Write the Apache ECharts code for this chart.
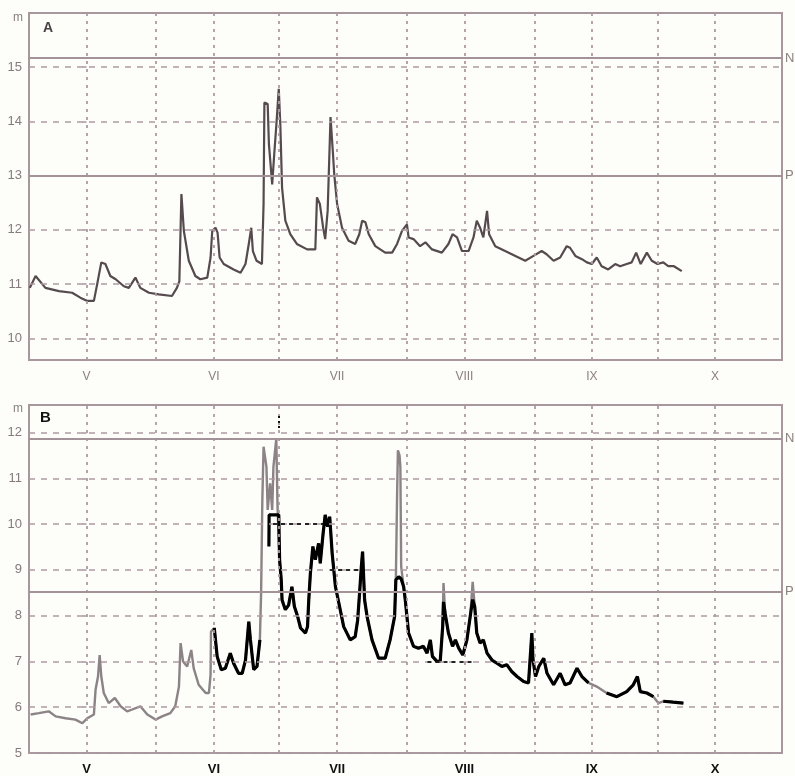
<!DOCTYPE html>
<html>
<head>
<meta charset="utf-8">
<script src="https://cdn.jsdelivr.net/npm/echarts@6/dist/echarts.min.js"></script>
<style>
  html, body { margin: 0; padding: 0; background: #fdfdfa; }
  #chart { width: 795px; height: 776px; }
</style>
</head>
<body>
<div id="chart"></div>
<script>
// Day numbers are counted from 1 May (1 May = 0).
const monthStarts = [0, 31, 61, 92, 123, 153];
const monthNames = ['V', 'VI', 'VII', 'VIII', 'IX', 'X'];
const midMonthDays = [16.8, 46.9, 78, 109, 139];

const ticksA = [10, 11, 12, 13, 14, 15];
const ticksB = [5, 6, 7, 8, 9, 10, 11, 12];
const thresholdNames = ['N', 'P'];
const thresholdsA = [15.17, 13.0];
const thresholdsB = [11.87, 8.53];

// Panel A: water level, m
const daysA = [
  -13.8, -12.4, -10.0, -6.7, -3.5, -1.5, 0.2, 1.8, 2.6, 3.6, 4.6, 5.8, 7.1, 9.1, 10.3, 11.9, 13.1,
  15.2, 17.6, 20.8, 22.0, 22.6, 23.1, 23.7, 24.9, 26.5, 27.7, 29.4, 30.2, 30.6, 31.4, 31.9, 32.4,
  33.4, 35.8, 37.5, 38.7, 39.5, 40.1, 40.5, 41.4, 42.7, 43.1, 43.3, 44.1, 44.4, 45.2, 45.7, 46.2,
  46.8, 47.2, 47.6, 48.4, 49.6, 51.2, 53.7, 55.7, 56.1, 56.8, 57.6, 58.1, 58.7, 59.4, 60.0, 60.3,
  61.0, 62.2, 63.8, 65.4, 66.4, 67.1, 67.9, 68.7, 70.3, 72.7, 74.4, 75.6, 76.8, 78.0, 78.4, 79.6,
  81.2, 82.5, 84.1, 86.5, 88.1, 89.1, 90.2, 91.4, 93.0, 94.2, 95.0, 95.8, 96.6, 97.5, 98.0, 99.5,
  101.9, 104.4, 106.8, 108.8, 110.8, 112.0, 113.7, 115.3, 116.9, 117.7, 119.0, 120.6, 121.8, 123.0,
  124.2, 125.4, 127.0, 128.7, 129.9, 131.5, 132.7, 133.8, 134.9, 136.4, 137.6, 139.0, 140.4, 141.6,
  143.0, 144.9
];
const levelsA = [
  10.93, 11.15, 10.93, 10.87, 10.84, 10.75, 10.69, 10.69, 11.0, 11.4, 11.37, 11.15, 11.09, 10.96, 10.93, 11.12, 10.93,
  10.84, 10.81, 10.78, 10.93, 11.05, 12.66, 11.98, 11.43, 11.15, 11.09, 11.12, 11.49, 11.98, 12.04, 11.95, 11.49,
  11.37, 11.27, 11.21, 11.37, 11.74, 12.04, 11.61, 11.43, 11.37, 12.48, 14.35, 14.32, 13.58, 12.84, 13.4, 13.92,
  14.6, 13.89, 12.78, 12.17, 11.92, 11.74, 11.64, 11.64, 12.6, 12.48, 12.04, 11.83, 12.35, 14.08, 13.4, 13.03,
  12.48, 12.04, 11.8, 11.74, 11.92, 12.17, 12.14, 11.92, 11.7, 11.58, 11.58, 11.74, 11.98, 12.1, 11.86, 11.83,
  11.7, 11.77, 11.64, 11.58, 11.74, 11.92, 11.86, 11.61, 11.61, 11.86, 12.17, 12.04, 11.86, 12.35, 11.92, 11.7,
  11.61, 11.52, 11.43, 11.52, 11.61, 11.55, 11.43, 11.49, 11.7, 11.67, 11.52, 11.46, 11.4, 11.37,
  11.49, 11.33, 11.27, 11.37, 11.33, 11.37, 11.4, 11.58, 11.37, 11.58, 11.43, 11.37, 11.4, 11.33,
  11.33, 11.24
];

// Panel B: natural course (grey)
const daysBGrey = [
  -13.6, -11.6, -9.2, -7.5, -5.1, -2.7, -1.0, 0.2, 1.8, 2.2, 2.8, 3.2, 3.6, 4.2, 5.4, 6.9, 8.3, 9.9,
  11.1, 13.1, 14.8, 16.8, 18.4, 20.4, 21.6, 22.5, 22.9, 23.5, 24.5, 25.5, 26.1, 27.3, 29.0, 29.8,
  30.2, 30.3, 31.1, 31.8, 32.8, 33.8, 34.6, 35.0, 35.8, 37.0, 37.9, 38.7, 39.5, 39.9, 40.7, 41.5,
  42.2, 42.5, 42.8, 43.1, 43.8, 44.1, 44.7, 45.2, 45.5, 46.2, 46.5, 47.0, 47.4, 47.6, 48.4, 49.2,
  50.0, 50.6, 51.4, 52.1, 53.3, 53.8, 54.1, 54.5, 55.1, 55.7, 56.5, 56.9, 57.6, 58.1, 58.7, 59.2,
  59.8, 60.6, 61.6, 62.6, 64.2, 65.4, 66.0, 66.4, 66.9, 67.2, 67.7, 68.3, 69.5, 71.1, 72.7, 73.9,
  75.0, 75.3, 75.6, 75.8, 76.2, 76.4, 76.6, 77.2, 77.6, 78.4, 79.6, 80.8, 82.0, 82.9, 83.7, 84.2,
  85.3, 86.1, 86.7, 86.9, 87.3, 88.1, 89.1, 89.8, 90.6, 91.6, 92.6, 93.4, 94.0, 94.5, 95.0, 95.8,
  96.6, 97.5, 98.7, 99.9, 101.1, 102.3, 103.5, 104.8, 106.4, 107.6, 108.4, 108.7, 109.3, 110.1,
  111.3, 112.1, 113.7, 115.3, 116.5, 117.7, 119.4, 120.6, 122.2, 124.2, 126.6, 129.1, 131.5,
  133.1, 134.1, 134.8, 136.4, 138.0, 139.2, 140.4, 142.8, 145.3
];
const levelsBGrey = [
  5.84, 5.87, 5.91, 5.80, 5.76, 5.73, 5.65, 5.76, 5.84, 6.38, 6.67, 7.14, 6.67, 6.31, 6.09, 6.20, 6.02, 5.91,
  5.95, 6.02, 5.84, 5.73, 5.80, 5.87, 6.02, 6.45, 7.40, 7.0, 6.89, 7.25, 6.85, 6.49, 6.31, 6.31,
  6.71, 7.65, 7.73, 7.11, 6.82, 6.85, 7.07, 7.18, 6.96, 6.74, 6.74, 7.03, 7.87, 7.47, 6.82, 6.89,
  7.47, 8.49, 10.52, 11.69, 11.25, 10.31, 10.89, 10.31, 11.25, 11.87, 10.38, 9.22, 8.78, 8.34, 8.13, 8.23,
  8.63, 8.20, 7.98, 7.73, 7.62, 7.76, 8.34, 8.93, 9.51, 9.22, 9.58, 9.14, 9.80, 10.20, 9.94, 10.16,
  9.36, 8.63, 8.20, 7.76, 7.47, 7.54, 7.9, 8.4, 9.07, 9.40, 8.34, 7.98, 7.47, 7.07, 7.07, 7.47,
  7.98, 8.78, 10.6, 11.61, 11.5, 11.25, 9.07, 8.63, 8.34, 7.62, 7.33, 7.29, 7.33, 7.18, 7.47, 7.11,
  7.0, 7.0, 7.76, 8.71, 8.05, 7.62, 7.33, 7.47, 7.29, 7.14, 7.47, 7.98, 8.74, 8.20, 7.62, 7.40,
  7.47, 7.18, 7.03, 6.96, 6.89, 6.93, 6.78, 6.67, 6.56, 6.53, 7.62, 7.03, 6.67, 6.89,
  7.07, 6.74, 6.49, 6.74, 6.49, 6.53, 6.85, 6.67, 6.53, 6.45, 6.31, 6.23, 6.34,
  6.49, 6.67, 6.34, 6.31, 6.23, 6.09, 6.13, 6.11, 6.09
];

// Panel B: regulated course (black), null marks a break in the trace
const daysBBlack = [
  31.1, 31.8, 32.8, 33.8, 34.6, 35.0, 35.8, 37.0, 37.9, 38.7, 39.5, 39.9, 40.7, 41.5, 42.2, 43.0,
  44.4, 44.45, 46.8, 47.0, 47.4, 47.6, 48.4, 49.2, 50.0, 50.6, 51.4, 52.1, 53.3, 53.8, 54.1, 54.5,
  55.1, 55.7, 56.5, 56.9, 57.6, 58.1, 58.7, 59.2, 59.8, 60.6, 61.6, 62.6, 64.2, 65.4, 66.0, 66.4,
  66.9, 67.2, 67.7, 68.3, 69.5, 71.1, 72.7, 73.9, 75.0, 75.3, 76.0, 76.6, 77.2, 77.6, 78.4, 79.6,
  80.8, 82.0, 82.9, 83.7, 84.2, 85.3, 86.1, 86.7, 86.9, 87.3, 88.1, 89.1, 89.8, 90.6, 91.6, 92.6,
  93.4, 94.0, 94.5, 95.0, 95.8, 96.6, 97.5, 98.7, 99.9, 101.1, 102.3, 103.5, 104.8, 106.4, 107.6,
  108.4, 108.7, 109.3, 110.1, 111.3, 112.1, 113.7, 115.3, 116.5, 117.7, 119.4, 120.6, 122.2, 124.2,
  126.6, 129.1, 131.5, 133.1, 134.1, 134.8, 136.4, 138.0, 139.2, 140.4, 142.8, 145.3
];
const levelsBBlack = [
  7.73, 7.11, 6.82, 6.85, 7.07, 7.18, 6.96, 6.74, 6.74, 7.03, 7.87, 7.47, 6.82, 6.89, 7.47, null,
  9.51, 10.2, 10.2, 9.22, 8.78, 8.34, 8.13, 8.23, 8.63, 8.20, 7.98, 7.73, 7.62, 7.76, 8.34, 8.93,
  9.51, 9.22, 9.58, 9.14, 9.80, 10.20, 9.94, 10.16, 9.36, 8.63, 8.20, 7.76, 7.47, 7.54, 7.9, 8.4,
  9.07, 9.40, 8.34, 7.98, 7.47, 7.07, 7.07, 7.47, 7.98, 8.78, 8.85, 8.8, 8.63, 8.34, 7.62, 7.33,
  7.29, 7.33, 7.18, 7.47, 7.11, 7.0, 7.0, 7.76, 8.3, 8.05, 7.62, 7.33, 7.47, 7.29, 7.14, 7.47,
  7.98, 8.35, 8.20, 7.62, 7.40, 7.47, 7.18, 7.03, 6.96, 6.89, 6.93, 6.78, 6.67, 6.56, 6.53,
  7.62, 7.03, 6.67, 6.89, 7.07, 6.74, 6.49, 6.74, 6.49, 6.53, 6.85, 6.67, 6.53, null,
  6.31, 6.23, 6.34, 6.49, 6.67, 6.34, 6.31, 6.23, null, 6.13, 6.11, 6.09
];

// Guide levels drawn as dark dashes in panel B: [from day, to day, level]
const guideLevelsB = [[45.4, 57.6, 10], [59.3, 67.1, 9], [83.0, 94.0, 7]];
const guideMarkB = [46.9, 12.1, 12.42];

const X_MIN = -14, X_MAX = 169.3;
const FRAME = '#a8979c';
const GRID_COL = '#ad9ba1';
const FONT = 'Liberation Sans, Arial, sans-serif';

function pairs(xs, ys) { return xs.map((x, i) => [x, ys[i]]); }

function gridLines(ticks, thresholds, monthLabel) {
  const items = [];
  ticks.forEach(t => items.push({ yAxis: t, lineStyle: { type: [6, 6], color: GRID_COL, width: 1.5 }, label: { show: false } }));
  midMonthDays.forEach(d => items.push({ xAxis: d, lineStyle: { type: [3, 5], color: GRID_COL, width: 1.8 }, label: { show: false } }));
  monthStarts.forEach((d, i) => items.push({
    xAxis: d,
    lineStyle: { type: [3, 5], color: GRID_COL, width: 1.8 },
    label: Object.assign({ show: true, position: 'start', formatter: monthNames[i] }, monthLabel)
  }));
  thresholds.forEach((v, i) => items.push({
    yAxis: v,
    lineStyle: { type: 'solid', color: '#a39298', width: 1.8 },
    label: { show: true, position: 'end', distance: 3, formatter: thresholdNames[i], color: '#8a7f82', fontSize: 13, fontFamily: FONT }
  }));
  return items;
}

function yAxisFor(idx, min, max) {
  return {
    type: 'value', gridIndex: idx, min: min, max: max, minInterval: 1, maxInterval: 1, splitNumber: 7,
    axisLine: { show: false },
    axisTick: { show: true, length: 4, lineStyle: { color: FRAME, width: 1.5 } },
    axisLabel: {
      margin: 7, color: '#857a7d', fontSize: 13, fontFamily: FONT,
      formatter: v => (Math.abs(v - Math.round(v)) < 1e-6 && v < max - 0.01) ? String(Math.round(v)) : ''
    },
    splitLine: { show: false }
  };
}

function xAxisFor(idx) {
  return {
    type: 'value', gridIndex: idx, min: X_MIN, max: X_MAX,
    axisLine: { show: false }, axisTick: { show: false }, axisLabel: { show: false }, splitLine: { show: false }
  };
}

const unitStyle = { fontSize: 12, fontWeight: 'normal', color: '#8a7f82', fontFamily: FONT };

const chart = echarts.init(document.getElementById('chart'), null, { renderer: 'canvas' });

chart.setOption({
  animation: false,
  backgroundColor: '#fdfdfa',
  title: [
    { text: 'A', left: 38, top: 16, textStyle: { fontSize: 14, fontWeight: 'bold', color: '#4a4245', fontFamily: FONT } },
    { text: 'B', left: 35, top: 405, textStyle: { fontSize: 15, fontWeight: 'bold', color: '#111', fontFamily: FONT } },
    { text: 'm', left: 8, top: 7, textStyle: unitStyle },
    { text: 'm', left: 8, top: 398, textStyle: unitStyle }
  ],
  grid: [
    { left: 29, top: 13, width: 753, height: 347, show: true, borderColor: FRAME, borderWidth: 2, backgroundColor: 'transparent' },
    { left: 29, top: 405, width: 753, height: 348, show: true, borderColor: FRAME, borderWidth: 2, backgroundColor: 'transparent' }
  ],
  xAxis: [xAxisFor(0), xAxisFor(1)],
  yAxis: [yAxisFor(0, 9.6, 16), yAxisFor(1, 5, 12.6)],
  series: [
    {
      name: 'A', type: 'line', xAxisIndex: 0, yAxisIndex: 0, z: 3,
      data: pairs(daysA, levelsA), showSymbol: false, symbol: 'none',
      lineStyle: { color: '#554a4d', width: 2.2 }
    },
    {
      name: 'A grid', type: 'line', xAxisIndex: 0, yAxisIndex: 0, z: 5, data: [],
      markLine: {
        silent: true, symbol: ['none', 'none'], animation: false,
        data: gridLines(ticksA, thresholdsA, { distance: 11, color: '#8a7f82', fontSize: 12, fontFamily: FONT })
      }
    },
    {
      name: 'B natural', type: 'line', xAxisIndex: 1, yAxisIndex: 1, z: 3,
      data: pairs(daysBGrey, levelsBGrey), showSymbol: false, symbol: 'none',
      lineStyle: { color: '#8b8385', width: 2.4 }
    },
    {
      name: 'B regulated', type: 'line', xAxisIndex: 1, yAxisIndex: 1, z: 4,
      data: pairs(daysBBlack, levelsBBlack), showSymbol: false, symbol: 'none', connectNulls: false,
      lineStyle: { color: '#000', width: 3.2 }
    },
    {
      name: 'B grid', type: 'line', xAxisIndex: 1, yAxisIndex: 1, z: 5, data: [],
      markLine: {
        silent: true, symbol: ['none', 'none'], animation: false,
        data: gridLines(ticksB, thresholdsB, { distance: 10, color: '#111', fontSize: 13, fontWeight: 'bold', fontFamily: FONT })
          .concat(guideLevelsB.map(g => [
            { coord: [g[0], g[2]], lineStyle: { type: [4, 4], color: '#111', width: 1.8 }, label: { show: false } },
            { coord: [g[1], g[2]] }
          ]))
          .concat([[
            { coord: [guideMarkB[0], guideMarkB[1]], lineStyle: { type: [2, 3], color: '#111', width: 2 }, label: { show: false } },
            { coord: [guideMarkB[0], guideMarkB[2]] }
          ]])
      }
    }
  ]
});
</script>
</body>
</html>
